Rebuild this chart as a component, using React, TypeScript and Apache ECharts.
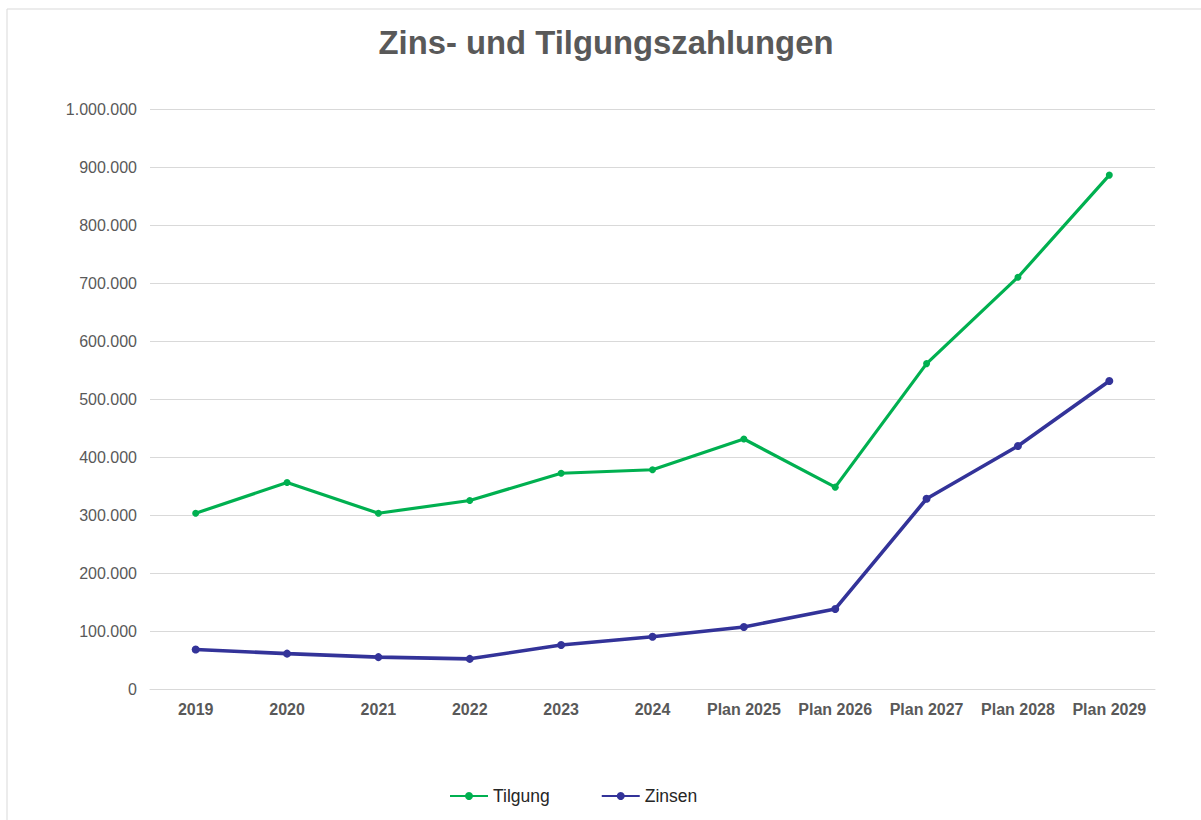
import React, { useEffect, useRef } from "react";
import * as echarts from "echarts";

const categories = ["2019", "2020", "2021", "2022", "2023", "2024", "Plan 2025", "Plan 2026", "Plan 2027", "Plan 2028", "Plan 2029"];
const tilgung = [303000, 356000, 303000, 325000, 372000, 378000, 431000, 348000, 561000, 710000, 886000];
const zinsen = [68000, 61000, 55000, 52000, 76000, 90000, 107000, 138000, 328000, 419000, 531000];
const title = "Zins- und Tilgungszahlungen";

const FONT = "'Liberation Sans', Arial, sans-serif";
const fmt = (v: number) => String(v).replace(/\B(?=(\d{3})+(?!\d))/g, ".");

export default function App() {
  const ref = useRef<HTMLDivElement>(null);
  useEffect(() => {
    if (!ref.current) return;
    const chart = echarts.init(ref.current, null, { renderer: "svg" });
    chart.setOption({
      animation: false,
      backgroundColor: "#ffffff",
      textStyle: { fontFamily: FONT },
      graphic: [
        {
          type: "rect",
          shape: { x: 7, y: 9, width: 1300, height: 900 },
          style: { fill: "none", stroke: "#d9d9d9", lineWidth: 1 },
          silent: true,
        },
      ],
      title: {
        text: title,
        left: 601,
        textAlign: "center",
        top: 21,
        textStyle: { color: "#595959", fontSize: 32.8, fontWeight: "bold", fontFamily: FONT },
      },
      legend: {
        bottom: 15,
        left: 449,
        padding: 0,
        itemWidth: 38,
        itemHeight: 10,
        itemGap: 51,
        textStyle: { color: "#262626", fontSize: 17.5, fontFamily: FONT },
        data: ["Tilgung", "Zinsen"],
      },
      grid: { left: 150, right: 46, top: 109, bottom: 131 },
      xAxis: {
        type: "category",
        data: categories,
        boundaryGap: true,
        axisLine: { show: true, lineStyle: { color: "#d9d9d9", width: 1 } },
        axisTick: { show: false },
        axisLabel: { color: "#595959", fontSize: 16, fontWeight: "bold", margin: 12, interval: 0, fontFamily: FONT },
      },
      yAxis: {
        type: "value",
        min: 0,
        max: 1000000,
        interval: 100000,
        axisLine: { show: false },
        axisTick: { show: false },
        splitLine: { lineStyle: { color: "#d9d9d9", width: 1 } },
        axisLabel: { color: "#595959", fontSize: 16, margin: 13, fontFamily: FONT, formatter: (v: number) => fmt(v) },
      },
      series: [
        {
          name: "Tilgung",
          type: "line",
          data: tilgung,
          symbol: "circle",
          symbolSize: 7,
          itemStyle: { color: "#00b050" },
          lineStyle: { color: "#00b050", width: 3.2 },
        },
        {
          name: "Zinsen",
          type: "line",
          data: zinsen,
          symbol: "circle",
          symbolSize: 8,
          itemStyle: { color: "#333399" },
          lineStyle: { color: "#333399", width: 3.6 },
        },
      ],
    });
    return () => chart.dispose();
  }, []);
  return <div ref={ref} style={{ position: "fixed", left: 0, top: 0, width: 1201, height: 820 }} />;
}
